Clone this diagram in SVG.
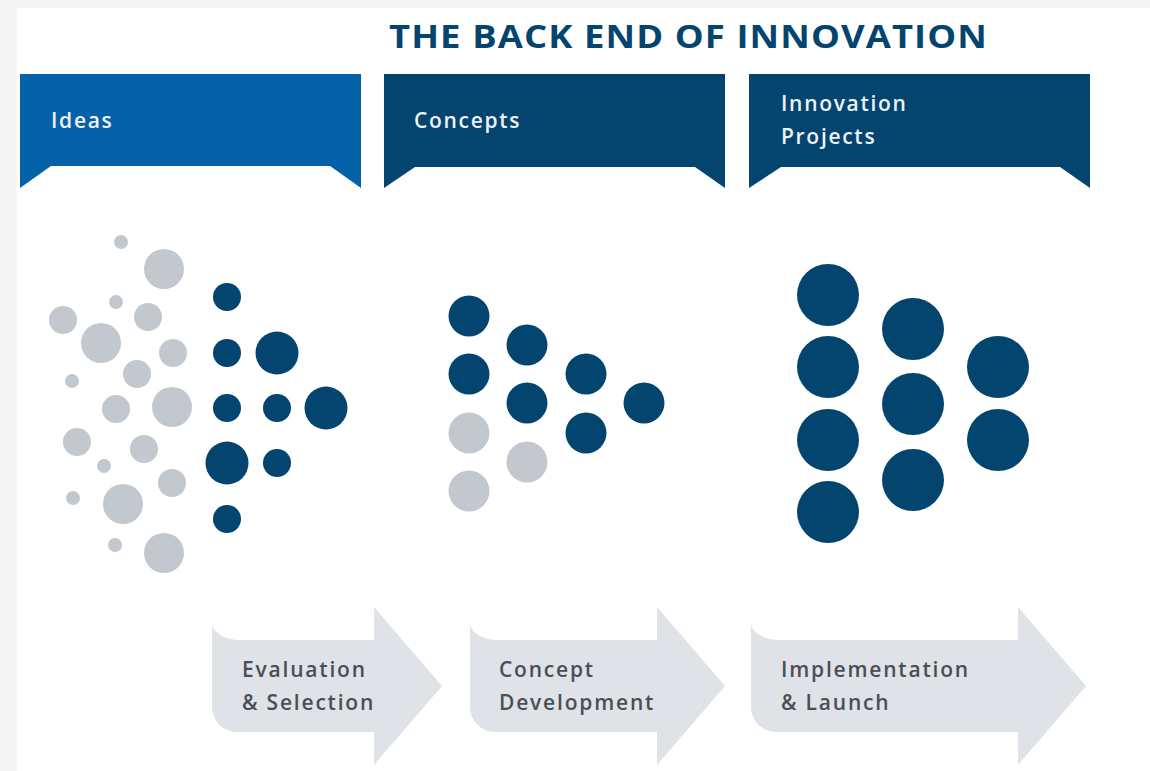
<svg xmlns="http://www.w3.org/2000/svg" width="1150" height="771" viewBox="0 0 1150 771">
  <style>
    .banner-light { fill: #0562a8; }
    .banner-dark { fill: #03456f; }
    .banner-text { font-family: "Open Sans", "Liberation Sans", sans-serif; font-size: 21px; font-weight: 600; fill: #eef2f6; letter-spacing: 1.7px; }
    .title { font-family: "Open Sans", "Liberation Sans", sans-serif; font-size: 33px; font-weight: 700; fill: #03456f; letter-spacing: 1px; }
    .step { fill: #dfe2e6; }
    .step-text { font-family: "Open Sans", "Liberation Sans", sans-serif; font-size: 21px; font-weight: 600; fill: #4a4f56; letter-spacing: 1.8px; }
    .g { fill: #c2c8cd; }
    .d { fill: #03456f; }
  </style>

  <!-- page background and card -->
  <rect x="0" y="0" width="1150" height="771" fill="#f5f5f5"/>
  <rect x="17" y="8" width="1133" height="763" fill="#ffffff"/>

  <text class="title" x="389" y="48" textLength="599" lengthAdjust="spacingAndGlyphs">THE BACK END OF INNOVATION</text>

  <!-- stage banners -->
  <g id="banner-ideas">
    <path class="banner-light" d="M20,74 H361 V188 L330,166 H51 L20,188 Z"/>
    <text class="banner-text" x="51" y="128">Ideas</text>
  </g>
  <g id="banner-concepts">
    <path class="banner-dark" d="M384,74 H725 V188 L695,167 H415 L384,188 Z"/>
    <text class="banner-text" x="414" y="128">Concepts</text>
  </g>
  <g id="banner-projects">
    <path class="banner-dark" d="M749,74 H1090 V188 L1060,167 H781 L749,188 Z"/>
    <text class="banner-text" x="781" y="111">Innovation</text>
    <text class="banner-text" x="781" y="144">Projects</text>
  </g>

  <!-- idea cloud funnelling into selected ideas -->
  <g id="dots-ideas">
    <circle class="g" cx="121" cy="242" r="7"/>
    <circle class="g" cx="164" cy="269" r="20"/>
    <circle class="g" cx="116" cy="302" r="7"/>
    <circle class="g" cx="63" cy="320" r="14"/>
    <circle class="g" cx="148" cy="317" r="14"/>
    <circle class="g" cx="101" cy="343" r="20"/>
    <circle class="g" cx="173" cy="353" r="14"/>
    <circle class="g" cx="137" cy="374" r="14"/>
    <circle class="g" cx="72" cy="381" r="7"/>
    <circle class="g" cx="116" cy="409" r="14"/>
    <circle class="g" cx="172" cy="407" r="20"/>
    <circle class="g" cx="77" cy="442" r="14"/>
    <circle class="g" cx="144" cy="449" r="14"/>
    <circle class="g" cx="104" cy="466" r="7"/>
    <circle class="g" cx="172" cy="483" r="14"/>
    <circle class="g" cx="73" cy="498" r="7"/>
    <circle class="g" cx="123" cy="504" r="20"/>
    <circle class="g" cx="115" cy="545" r="7"/>
    <circle class="g" cx="164" cy="553" r="20"/>

    <circle class="d" cx="227" cy="297" r="14"/>
    <circle class="d" cx="227" cy="353" r="14"/>
    <circle class="d" cx="277" cy="353" r="21.5"/>
    <circle class="d" cx="227" cy="408" r="14"/>
    <circle class="d" cx="277" cy="408" r="14"/>
    <circle class="d" cx="326" cy="408" r="21.5"/>
    <circle class="d" cx="227" cy="463" r="21.5"/>
    <circle class="d" cx="277" cy="463" r="14"/>
    <circle class="d" cx="227" cy="519" r="14"/>
  </g>

  <g id="dots-concepts">
    <circle class="d" cx="469" cy="316" r="20.5"/>
    <circle class="d" cx="469" cy="374" r="20.5"/>
    <circle class="g" cx="469" cy="433" r="20.5"/>
    <circle class="g" cx="469" cy="491" r="20.5"/>
    <circle class="d" cx="527" cy="345" r="20.5"/>
    <circle class="d" cx="527" cy="403" r="20.5"/>
    <circle class="g" cx="527" cy="462" r="20.5"/>
    <circle class="d" cx="586" cy="374" r="20.5"/>
    <circle class="d" cx="586" cy="433" r="20.5"/>
    <circle class="d" cx="644" cy="403" r="20.5"/>
  </g>

  <g id="dots-projects">
    <circle class="d" cx="828" cy="295" r="31"/>
    <circle class="d" cx="828" cy="367" r="31"/>
    <circle class="d" cx="828" cy="440" r="31"/>
    <circle class="d" cx="828" cy="512" r="31"/>
    <circle class="d" cx="913" cy="329" r="31"/>
    <circle class="d" cx="913" cy="404" r="31"/>
    <circle class="d" cx="913" cy="480" r="31"/>
    <circle class="d" cx="998" cy="367" r="31"/>
    <circle class="d" cx="998" cy="440" r="31"/>
  </g>

  <!-- process step arrows -->
  <g id="step-evaluation">
    <path class="step" d="M212,623 A28,17 0 0 0 240,640 H374 V607 L442,686 L374,765 V732 H237 A25,25 0 0 1 212,707 Z"/>
    <text class="step-text" x="242" y="677">Evaluation</text>
    <text class="step-text" x="242" y="710">&amp; Selection</text>
  </g>
  <g id="step-development">
    <path class="step" d="M470,623 A28,17 0 0 0 498,640 H657 V607 L725,686 L657,765 V732 H495 A25,25 0 0 1 470,707 Z"/>
    <text class="step-text" x="499" y="677">Concept</text>
    <text class="step-text" x="499" y="710">Development</text>
  </g>
  <g id="step-launch">
    <path class="step" d="M751,623 A28,17 0 0 0 779,640 H1018 V607 L1086,686 L1018,765 V732 H776 A25,25 0 0 1 751,707 Z"/>
    <text class="step-text" x="781" y="677">Implementation</text>
    <text class="step-text" x="781" y="710">&amp; Launch</text>
  </g>
</svg>
